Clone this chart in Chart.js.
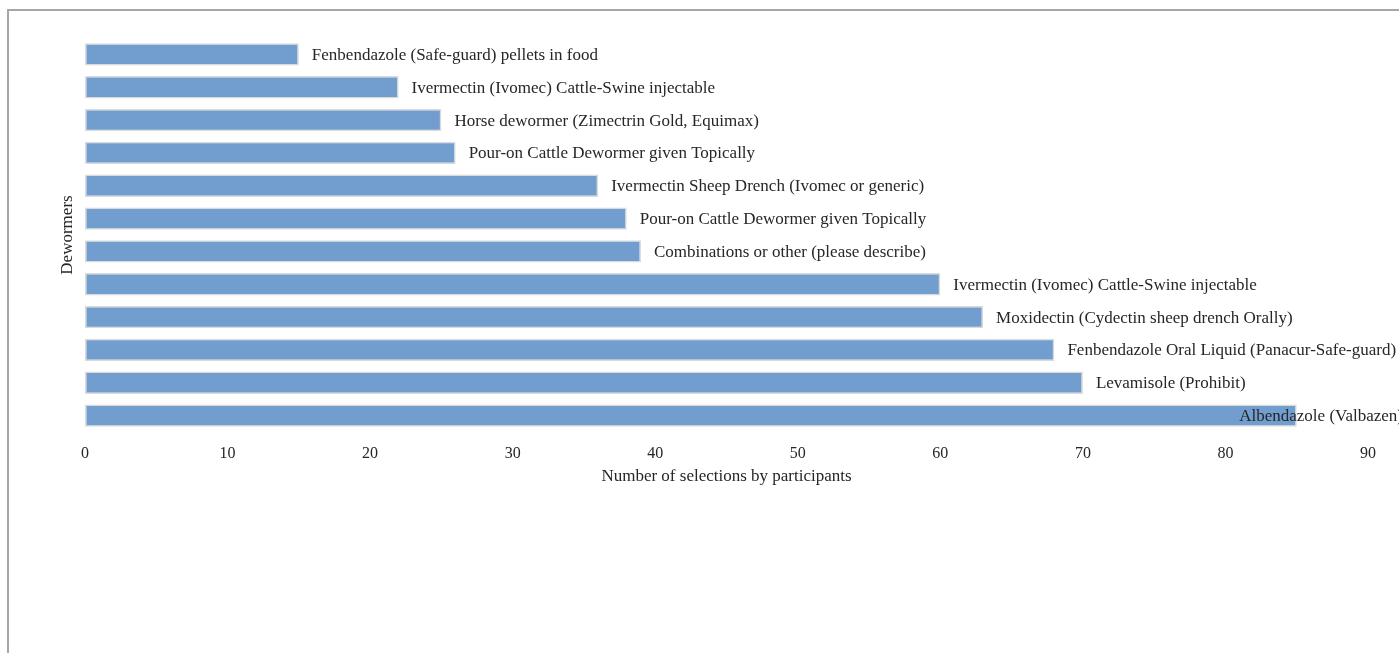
<!DOCTYPE html>
<html>
<head>
<meta charset="utf-8">
<script src="https://cdn.jsdelivr.net/npm/chart.js@4/dist/chart.umd.min.js"></script>
<style>
  html, body { margin: 0; padding: 0; background: #fff; overflow: hidden; }
  #frame { position: absolute; left: 7px; top: 9px; width: 2000px; height: 2000px; border: 2px solid #a6a6a6; }
  #wrap { position: absolute; left: 0; top: 0; width: 1399px; height: 653px; }
</style>
</head>
<body>
<div id="frame"></div>
<div id="wrap"><canvas id="dewormerChart" width="1399" height="653"></canvas></div>
<script>
// Dewormers, listed top to bottom as in the figure
const dewormers = [
    'Fenbendazole (Safe-guard) pellets in food',
    'Ivermectin (Ivomec) Cattle-Swine injectable',
    'Horse dewormer (Zimectrin Gold, Equimax)',
    'Pour-on Cattle Dewormer given Topically',
    'Ivermectin Sheep Drench (Ivomec or generic)',
    'Pour-on Cattle Dewormer given Topically',
    'Combinations or other (please describe)',
    'Ivermectin (Ivomec) Cattle-Swine injectable',
    'Moxidectin (Cydectin sheep drench Orally)',
    'Fenbendazole Oral Liquid (Panacur-Safe-guard)',
    'Levamisole (Prohibit)',
    'Albendazole (Valbazen)'
];
const selections = [15, 22, 25, 26, 36, 38, 39, 60, 63, 68, 70, 85];
const xTicks = [0, 10, 20, 30, 40, 50, 60, 70, 80, 90];

const serif = '"Liberation Serif", "Times New Roman", serif';

// draws each dewormer name just right of its bar
const barLabels = {
    id: 'barLabels',
    afterDatasetsDraw(chart) {
        const ctx = chart.ctx;
        const meta = chart.getDatasetMeta(0);
        ctx.save();
        ctx.font = '17px ' + serif;
        ctx.fillStyle = '#262626';
        ctx.textBaseline = 'middle';
        meta.data.forEach((bar, i) => {
            const text = chart.data.labels[i];
            const w = ctx.measureText(text).width;
            let x = bar.x + 13;
            if (x + w > chart.width) x = chart.width - w + 4; // pull back the one that runs off the edge
            ctx.fillText(text, x, bar.y + 1);
        });
        ctx.restore();
    }
};

const ctx = document.getElementById('dewormerChart').getContext('2d');
new Chart(ctx, {
    type: 'bar',
    data: {
        labels: dewormers,
        datasets: [{
            label: 'Number of selections',
            data: selections,
            backgroundColor: 'rgb(114,158,207)',
            borderColor: '#dadada',
            borderWidth: 1.5,
            borderSkipped: false,
            barPercentage: 0.68,
            categoryPercentage: 1
        }]
    },
    options: {
        indexAxis: 'y',
        responsive: false,
        animation: false,
        layout: { padding: { top: 38, bottom: 161, left: 0, right: 31 } },
        scales: {
            x: {
                min: 0,
                max: 90,
                afterBuildTicks: scale => { scale.ticks = xTicks.map(v => ({ value: v })); },
                afterFit: scale => { scale.height = 60; },
                grid: { display: false, drawTicks: false },
                border: { display: false },
                ticks: { padding: 12, color: '#262626', font: { family: serif, size: 16 } },
                title: {
                    display: true,
                    text: 'Number of selections by participants',
                    color: '#262626',
                    font: { family: serif, size: 17 },
                    padding: { top: 0, bottom: 5 }
                }
            },
            y: {
                afterFit: scale => { scale.width = 85; },
                grid: { display: false, drawTicks: false },
                border: { display: false },
                ticks: { display: false },
                title: {
                    display: true,
                    text: 'Dewormers',
                    color: '#262626',
                    font: { family: serif, size: 17 },
                    padding: { top: 57, bottom: 0 }
                }
            }
        },
        plugins: {
            legend: { display: false },
            tooltip: { enabled: false }
        }
    },
    plugins: [barLabels]
});
</script>
</body>
</html>
